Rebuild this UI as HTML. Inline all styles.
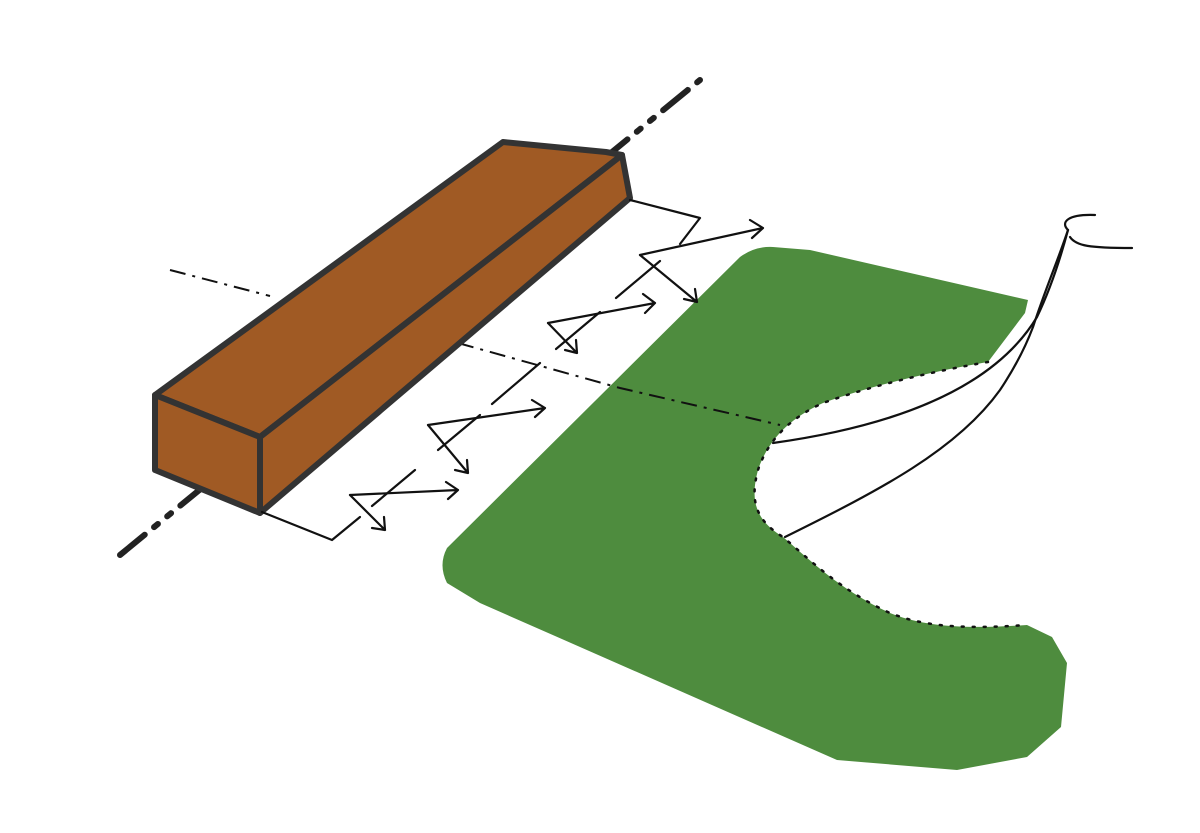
<!DOCTYPE html>
<html><head><meta charset="utf-8"><style>html,body{margin:0;padding:0;background:#fff}svg{display:block}</style></head>
<body>
<svg width="1200" height="833" viewBox="0 0 1200 833" xmlns="http://www.w3.org/2000/svg">
<path d="M447,548 L740,257 Q755,246 773,247 L810,250 L1028,300 L1025,313 L988,362 C940,370 873,385 823,403 C790,418 768,440 758,470 C750,500 755,520 783,537 C810,560 840,590 890,613 C920,625 957,630 1027,625 L1052,637 L1067,663 L1061,727 L1027,757 L957,770 L837,760 L480,603 L447,583 Q438,565 447,548 Z" fill="#4e8c3e"/>
<path d="M988,362 C940,370 873,385 823,403 C790,418 768,440 758,470 C750,500 755,520 783,537 C810,560 840,590 890,613 C920,625 957,630 1027,625" fill="none" stroke="#111" stroke-width="2.5" stroke-dasharray="2 9" stroke-linecap="round"/>
<line x1="120" y1="555" x2="700" y2="80" stroke="#222" stroke-width="6" stroke-dasharray="32 12 5 12 5 12" stroke-linecap="round"/>
<g fill="none" stroke="#111" stroke-width="2" stroke-dasharray="16 7 3 7">
<line x1="170" y1="270" x2="270" y2="296"/>
<path d="M458,343 L620,388 L780,425"/>
</g>
<g stroke="#333" stroke-width="6" stroke-linejoin="round">
<polygon points="155,395 503,142 606,152 622,155 260,437" fill="#a05a24"/>
<polygon points="260,437 622,155 630,198 260,513" fill="#a05a24"/>
<polygon points="155,395 260,437 260,513 155,470" fill="#a05a24"/>
</g>
<g fill="none" stroke="#111" stroke-width="2.2" stroke-linecap="round" stroke-linejoin="round">
<path d="M262,512 L332,540 L360,517"/>
<path d="M372,506 L415,470"/><path d="M438,450 L480,415"/>
<path d="M492,404 L540,363"/><path d="M556,349 L600,312"/>
<path d="M616,298 L660,261"/><path d="M680,244 L700,218 L630,200"/>
<path d="M350,495 L458,490 M446,482 L458,490 L448,499"/>
<path d="M350,495 L385,530 M372,528 L385,530 L384,517"/>
<path d="M428,425 L545,408 M532,400 L545,408 L535,417"/>
<path d="M428,425 L468,473 M455,470 L468,473 L467,460"/>
<path d="M548,323 L655,303 M643,294 L655,303 L645,313"/>
<path d="M548,323 L577,353 M565,350 L577,353 L576,340"/>
<path d="M640,255 L763,228 M750,220 L763,228 L752,238"/>
<path d="M640,255 L697,302 M684,299 L697,302 L695,289"/>
<path d="M773,443 C880,428 990,395 1037,317 C1050,290 1060,260 1068,230"/>
<path d="M785,537 C880,490 957,450 1000,390 C1020,360 1030,335 1033,327 C1045,290 1058,260 1068,230"/>
<path d="M1068,230 C1060,222 1068,214 1095,215"/>
<path d="M1070,237 C1076,246 1090,248 1132,248"/>
</g>
</svg>
</body></html>
